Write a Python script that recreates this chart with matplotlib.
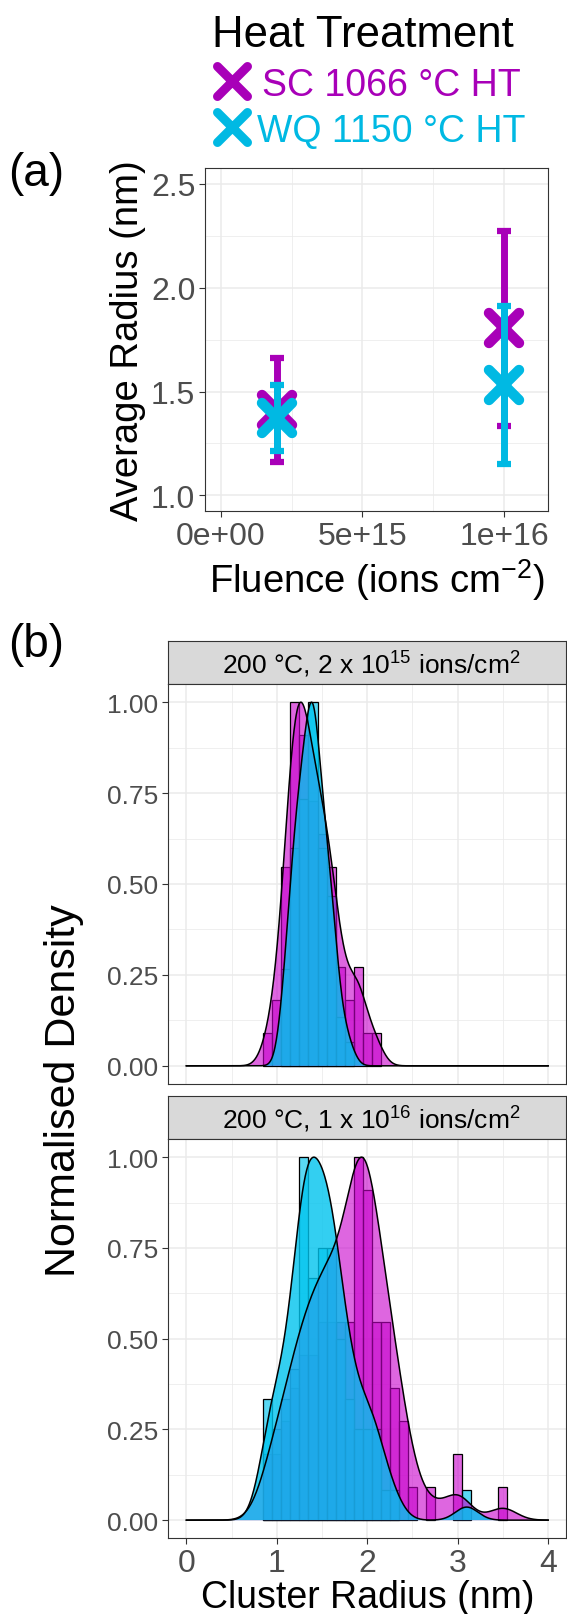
import numpy as np
import matplotlib
matplotlib.use('Agg')
import matplotlib.pyplot as plt
from matplotlib.markers import MarkerStyle
from matplotlib.lines import Line2D
from matplotlib.colors import to_rgba
from matplotlib.ticker import MultipleLocator, FixedLocator

plt.rcParams['font.family'] = ['Liberation Sans', 'DejaVu Sans']
plt.rcParams['mathtext.fontset'] = 'custom'
plt.rcParams['mathtext.rm'] = 'Liberation Sans'
plt.rcParams['mathtext.it'] = 'Liberation Sans:italic'
plt.rcParams['mathtext.default'] = 'regular'

# ---------------- data ----------------
treatments = ['SC 1066 °C HT', 'WQ 1150 °C HT']
fluence = [2e15, 1e16]
mean_sc = [1.411, 1.805]
sd_sc = [0.252, 0.470]
mean_wq = [1.373, 1.531]
sd_wq = [0.161, 0.381]
fluence_ticks = [0, 5e15, 1e16]
fluence_ticklabels = ['0e+00', '5e+15', '1e+16']
radius_ticks = [1.0, 1.5, 2.0, 2.5]

facet_titles = ['200 °C, 2 x 10$^{15}$ ions/cm$^{2}$',
                '200 °C, 1 x 10$^{16}$ ions/cm$^{2}$']

# histogram bins (binwidth 0.1 nm), counts per heat treatment
bins_2e15 = [0.9, 1.0, 1.1, 1.2, 1.3, 1.4, 1.5, 1.6, 1.7, 1.8, 1.9, 2.0, 2.1]
sc_2e15 = [1, 2, 6, 11, 10, 8, 7, 6, 3, 2, 3, 1, 1]
wq_2e15 = [0, 0, 4, 9, 11, 15, 9, 7, 2, 1, 0, 0, 0]

bins_1e16 = [0.8, 0.9, 1.0, 1.1, 1.2, 1.3, 1.4, 1.5, 1.6, 1.7, 1.8, 1.9, 2.0,
             2.1, 2.2, 2.3, 2.4, 2.5, 2.6, 2.7, 2.8, 2.9, 3.0, 3.1, 3.2, 3.3,
             3.4, 3.5]
sc_1e16 = [0, 2, 2, 3, 4, 5, 5, 6, 6, 6, 6, 11, 10,
           6, 6, 4, 3, 1, 0, 1, 0, 0, 2, 0, 0, 0,
           0, 1]
wq_1e16 = [0, 4, 3, 4, 5, 12, 8, 9, 9, 6, 4, 3, 3,
           3, 1, 1, 0, 0, 0, 0, 0, 0, 0, 1, 0, 0,
           0, 0]
bandwidths = {'2e15': (0.095, 0.075), '1e16': (0.15, 0.125)}
radius_ticks_b = [0, 1, 2, 3, 4]
density_ticks = [0.0, 0.25, 0.5, 0.75, 1.0]

# ---------------- style ----------------
SC_COL = '#A800B8'
WQ_COL = '#00B9E3'
SC_FILL = '#C800CC'
WQ_FILL = '#00C4EE'
SC_HIST_ALPHA, SC_DENS_ALPHA = 0.6, 0.6
WQ_HIST_ALPHA, WQ_DENS_ALPHA = 0.65, 0.8
TICK_COL = '#4D4D4D'
BORDER = '#333333'
GRID = '#EBEBEB'

W, H = 567, 1615
fig = plt.figure(figsize=(W / 100, H / 100), dpi=100)


def px_axes(left, top, right, bottom):
    return fig.add_axes([left / W, 1 - bottom / H, (right - left) / W, (bottom - top) / H])


def style_axes(ax, fs):
    for s in ax.spines.values():
        s.set_color(BORDER)
        s.set_linewidth(0.8)
    ax.tick_params(which='major', length=4, width=0.8, color=BORDER,
                   labelcolor=TICK_COL, labelsize=fs, pad=3)
    ax.tick_params(which='minor', length=0)
    ax.grid(which='major', color=GRID, lw=1.1)
    ax.grid(which='minor', color=GRID, lw=0.55)
    ax.set_axisbelow(True)


# ---------------- panel (a) ----------------
axa = px_axes(205, 169.3, 548.3, 512)
style_axes(axa, 23)
mk = MarkerStyle('x', capstyle='round')
for means, sds, col in [(mean_sc, sd_sc, SC_COL), (mean_wq, sd_wq, WQ_COL)]:
    axa.errorbar(fluence, means, yerr=sds, fmt='none', ecolor=col,
                 elinewidth=5, capsize=4.8, capthick=4.5)
    axa.plot(fluence, means, ls='none', marker=mk, ms=22, mew=7.5, color=col)
axa.set_xlim(-0.55e15, 1.155e16)
axa.set_ylim(0.925, 2.575)
axa.xaxis.set_major_locator(FixedLocator(fluence_ticks))
axa.set_xticklabels(fluence_ticklabels)
axa.xaxis.set_minor_locator(FixedLocator([2.5e15, 7.5e15]))
axa.yaxis.set_major_locator(FixedLocator(radius_ticks))
axa.set_yticklabels([f'{v:.1f}' for v in radius_ticks])
axa.yaxis.set_minor_locator(FixedLocator([1.25, 1.75, 2.25]))

fig.text(128 / W, 1 - 340.6 / H, 'Average Radius (nm)', rotation=90,
         ha='center', va='center', fontsize=27.5)
fig.text(376.6 / W, 1 - 593 / H, 'Fluence (ions cm$^{-2}$)', ha='center',
         va='baseline', fontsize=27.5)
fig.text(8 / W, 1 - 174 / H, '(a)', ha='left', va='center', fontsize=33)
fig.text(8 / W, 1 - 645 / H, '(b)', ha='left', va='center', fontsize=33)

# legend
fig.text(212 / W, 1 - 46.7 / H, 'Heat Treatment', ha='left', va='baseline', fontsize=31.5)
for lab, col, yc, xt in [(treatments[0], SC_COL, 81.7, 262), (treatments[1], WQ_COL, 128.3, 257)]:
    fig.add_artist(Line2D([231.7 / W], [1 - yc / H], transform=fig.transFigure,
                          ls='none', marker=mk, ms=21, mew=6.5, color=col))
    fig.text(xt / W, 1 - (yc + 14) / H, lab, ha='left', va='baseline',
             fontsize=27, color=col)

# ---------------- panel (b) ----------------
grid = np.linspace(0, 4, 801)


def kde(centers, counts, bw):
    c = np.asarray(centers, float)
    w = np.asarray(counts, float)
    d = (grid[:, None] - c[None, :]) / bw
    k = np.exp(-0.5 * d ** 2) @ w
    return k / k.max()


groups = [(SC_FILL, SC_HIST_ALPHA, SC_DENS_ALPHA), (WQ_FILL, WQ_HIST_ALPHA, WQ_DENS_ALPHA)]
panels = [
    (bins_2e15, sc_2e15, wq_2e15, bandwidths['2e15'], 641.7, 685, 1085, facet_titles[0]),
    (bins_1e16, sc_1e16, wq_1e16, bandwidths['1e16'], 1096.7, 1140, 1539.3, facet_titles[1]),
]
for centers, sc, wq, bws, stop, ptop, pbot, title in panels:
    sax = px_axes(168.3, stop, 566.2, ptop)
    sax.set_facecolor('#D9D9D9')
    for s in sax.spines.values():
        s.set_color(BORDER)
        s.set_linewidth(0.8)
    sax.set_xticks([])
    sax.set_yticks([])
    sax.text(0.51, 0.25, title, ha='center', va='baseline', fontsize=19,
             transform=sax.transAxes)

    ax = px_axes(168.3, ptop, 566.2, pbot)
    style_axes(ax, 19)
    for counts, (fill, ha, da) in zip([sc, wq], groups):
        cnt = np.asarray(counts, float)
        keep = cnt > 0
        ax.bar(np.asarray(centers)[keep], cnt[keep] / cnt.max(), width=0.1,
               facecolor=to_rgba(fill, ha), edgecolor='black', linewidth=0.9)
    for counts, (fill, ha, da), bw in zip([sc, wq], groups, bws):
        dens = kde(centers, counts, bw)
        ax.fill_between(grid, 0, dens, facecolor=to_rgba(fill, da), edgecolor='none')
        ax.plot(grid, dens, color='black', lw=1.1)
    ax.set_xlim(-0.2, 4.2)
    ax.set_ylim(-0.05, 1.05)
    ax.xaxis.set_major_locator(FixedLocator(radius_ticks_b))
    ax.xaxis.set_minor_locator(MultipleLocator(0.5))
    ax.yaxis.set_major_locator(FixedLocator(density_ticks))
    ax.yaxis.set_minor_locator(MultipleLocator(0.125))
    ax.set_yticklabels([f'{v:.2f}' for v in density_ticks])
    if pbot < 1200:
        ax.tick_params(axis='x', labelbottom=False, length=0)
    else:
        ax.set_xticklabels([str(v) for v in radius_ticks_b])
        ax.tick_params(axis='x', labelsize=23)

fig.text(64 / W, 1 - 1090.5 / H, 'Normalised Density', rotation=90,
         ha='center', va='center', fontsize=31)
fig.text(367.5 / W, 1 - 1608 / H, 'Cluster Radius (nm)', ha='center',
         va='baseline', fontsize=27)

fig.savefig('out.png', dpi=100)
